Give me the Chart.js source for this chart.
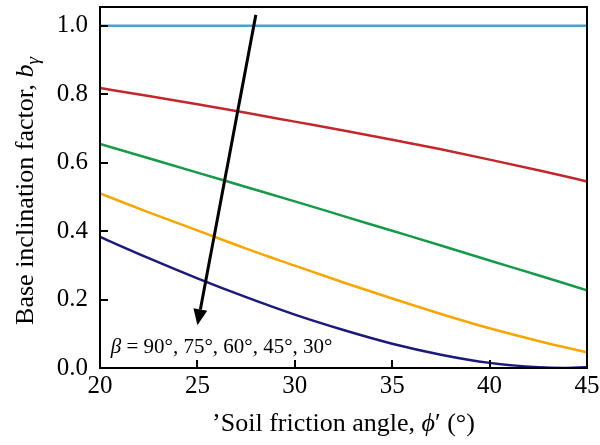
<!DOCTYPE html>
<html>
<head>
<meta charset="utf-8">
<script src="https://cdn.jsdelivr.net/npm/chart.js@4.4.1/dist/chart.umd.min.js"></script>
<style>
  html, body { margin: 0; padding: 0; background: #fff; }
  #wrap { width: 600px; height: 445px; }
</style>
</head>
<body>
<div id="wrap"><canvas id="incl"></canvas></div>
<script>
// friction angle (deg) and b_gamma
const phi = [20, 22.5, 25, 27.5, 30, 32.5, 35, 37.5, 40, 42.5, 43.75, 45];
const beta90 = [1, 1, 1, 1, 1, 1, 1, 1, 1, 1, 1, 1];
const beta75 = [0.818, 0.795, 0.771, 0.746, 0.720, 0.694, 0.667, 0.639, 0.609, 0.578, 0.562, 0.545];
const beta60 = [0.655, 0.613, 0.571, 0.529, 0.487, 0.444, 0.401, 0.358, 0.314, 0.271, 0.249, 0.227];
const beta45 = [0.510, 0.455, 0.402, 0.349, 0.299, 0.250, 0.203, 0.158, 0.116, 0.079, 0.062, 0.046];
const beta30 = [0.383, 0.321, 0.262, 0.207, 0.156, 0.111, 0.071, 0.039, 0.015, 0.002, 0.000, 0.002];
const yTicks = [0, 0.2, 0.4, 0.6, 0.8, 1.0];
const xTicks = [20, 25, 30, 35, 40, 45];
const arrowFrom = [28.0, 1.032];
const arrowTo = [25.0, 0.125];
const betaLabelAt = [20.55, 0.045];

const serif = "'Liberation Serif', 'DejaVu Serif', serif";

function pts(ys) {
  return phi.map((p, i) => ({ x: p, y: ys[i] }));
}

function line(label, ys, color) {
  return {
    label: label,
    data: pts(ys),
    borderColor: color,
    borderWidth: 2.5,
    pointRadius: 0,
    fill: false,
    cubicInterpolationMode: 'monotone'
  };
}

// draws a run of [text, font, dy] pieces starting at x
function drawRun(ctx, parts, x, y) {
  parts.forEach(p => {
    ctx.font = p[1];
    ctx.fillText(p[0], x, y + (p[2] || 0));
    x += ctx.measureText(p[0]).width;
  });
}
function runWidth(ctx, parts) {
  let w = 0;
  parts.forEach(p => { ctx.font = p[1]; w += ctx.measureText(p[0]).width; });
  return w;
}

const decor = {
  id: 'decor',
  afterDraw(chart) {
    const ctx = chart.ctx;
    const a = chart.chartArea;
    const xs = chart.scales.x, ys = chart.scales.y;
    ctx.save();
    ctx.strokeStyle = '#000';
    ctx.fillStyle = '#000';
    ctx.lineWidth = 2;
    ctx.strokeRect(a.left, a.top, a.right - a.left, a.bottom - a.top);

    // inward ticks
    ctx.beginPath();
    yTicks.forEach(v => {
      const py = Math.round(ys.getPixelForValue(v));
      ctx.moveTo(a.left, py); ctx.lineTo(a.left + 8, py);
    });
    xTicks.forEach(v => {
      const px = Math.round(xs.getPixelForValue(v));
      ctx.moveTo(px, a.bottom); ctx.lineTo(px, a.bottom - 8);
    });
    ctx.stroke();

    // arrow
    const x1 = xs.getPixelForValue(arrowFrom[0]), y1 = ys.getPixelForValue(arrowFrom[1]);
    const x2 = xs.getPixelForValue(arrowTo[0]), y2 = ys.getPixelForValue(arrowTo[1]);
    const ang = Math.atan2(y2 - y1, x2 - x1);
    const hl = 16, hw = 7;
    const bx = x2 - hl * Math.cos(ang), by = y2 - hl * Math.sin(ang);
    ctx.lineWidth = 3;
    ctx.beginPath();
    ctx.moveTo(x1, y1); ctx.lineTo(bx, by);
    ctx.stroke();
    ctx.beginPath();
    ctx.moveTo(x2, y2);
    ctx.lineTo(bx + hw * Math.sin(ang), by - hw * Math.cos(ang));
    ctx.lineTo(bx - hw * Math.sin(ang), by + hw * Math.cos(ang));
    ctx.closePath();
    ctx.fill();

    // beta label
    ctx.textBaseline = 'alphabetic';
    ctx.textAlign = 'left';
    const lx = xs.getPixelForValue(betaLabelAt[0]), ly = ys.getPixelForValue(betaLabelAt[1]);
    drawRun(ctx, [
      ['β', 'italic 21px ' + serif],
      [' = 90°, 75°, 60°, 45°, 30°', '21px ' + serif]
    ], lx, ly);

    // x title
    const xt = [
      ['\u2019Soil friction angle, ', '26px ' + serif],
      ['\u03D5', 'italic 26px ' + serif],
      ['\u2032 (°)', '26px ' + serif]
    ];
    const cx = (a.left + a.right) / 2;
    drawRun(ctx, xt, cx - runWidth(ctx, xt) / 2, 431);

    // y title
    const yt = [
      ['Base inclination factor, ', '26px ' + serif],
      ['b', 'italic 26px ' + serif],
      ['γ', 'italic 19px ' + serif, 6]
    ];
    ctx.translate(33, 191);
    ctx.rotate(-Math.PI / 2);
    drawRun(ctx, yt, -runWidth(ctx, yt) / 2, 0);
    ctx.restore();
  }
};

new Chart(document.getElementById('incl'), {
  type: 'line',
  data: {
    datasets: [
      line('β = 90°', beta90, '#4c9fcf'),
      line('β = 75°', beta75, '#c1272d'),
      line('β = 60°', beta60, '#17994a'),
      line('β = 45°', beta45, '#f7a600'),
      line('β = 30°', beta30, '#1b1a7a')
    ]
  },
  options: {
    responsive: true,
    maintainAspectRatio: false,
    animation: false,
    layout: { padding: { top: 7, right: 13, left: 0, bottom: 0 } },
    plugins: {
      legend: { display: false },
      tooltip: { enabled: false }
    },
    scales: {
      x: {
        type: 'linear',
        min: 20,
        max: 45,
        afterBuildTicks: s => { s.ticks = xTicks.map(v => ({ value: v })); },
        afterFit: s => { s.height = 77; s.paddingLeft = 0; s.paddingRight = 0; },
        grid: { display: false, drawTicks: false },
        border: { display: false },
        ticks: {
          color: '#000',
          font: { family: serif, size: 25 },
          padding: 3,
          maxRotation: 0
        }
      },
      y: {
        min: 0,
        max: 1.055,
        afterBuildTicks: s => { s.ticks = yTicks.map(v => ({ value: v })); },
        afterFit: s => { s.width = 100; s.paddingTop = 0; s.paddingBottom = 0; },
        grid: { display: false, drawTicks: false },
        border: { display: false },
        ticks: {
          color: '#000',
          font: { family: serif, size: 25 },
          padding: 12,
          callback: v => v.toFixed(1)
        }
      }
    }
  },
  plugins: [decor]
});
</script>
</body>
</html>
